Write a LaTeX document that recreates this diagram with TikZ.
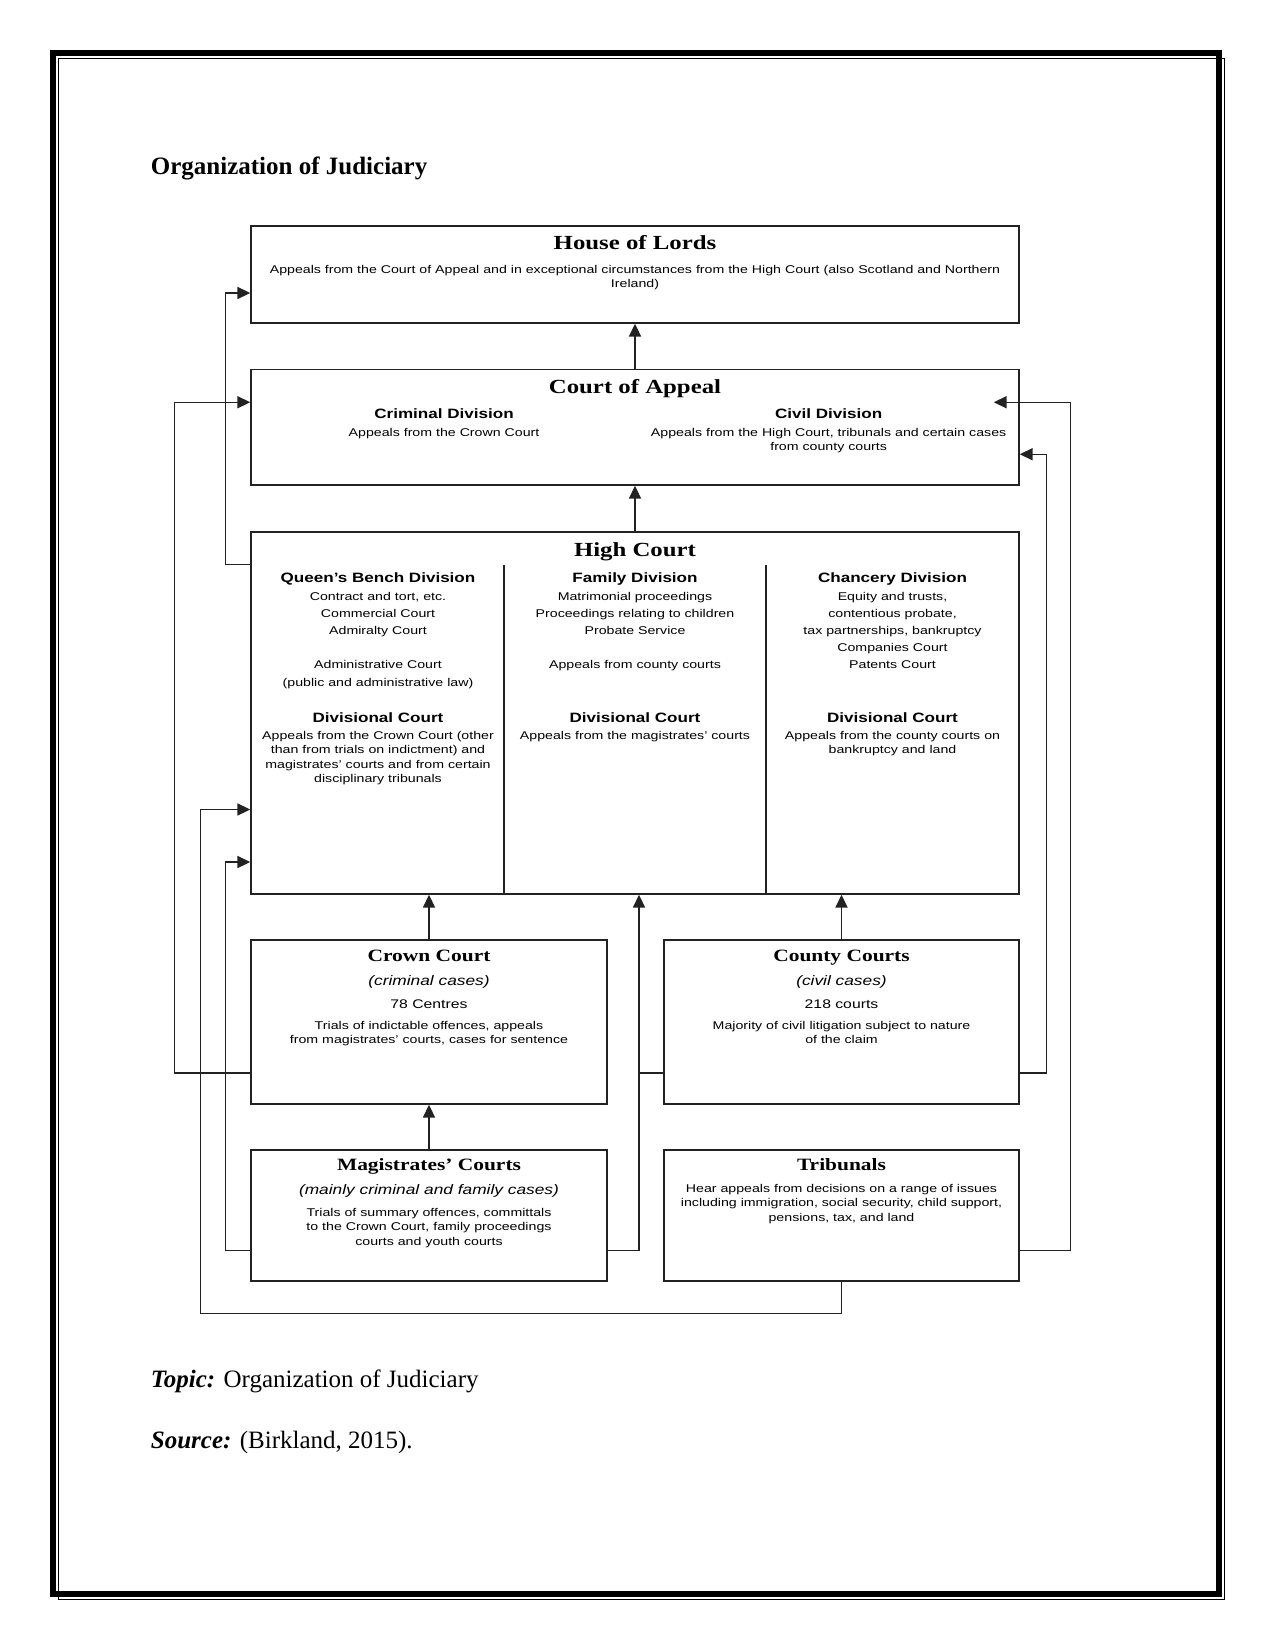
\documentclass[tikz,border=0pt]{standalone}
\usepackage{fontspec}
\setmainfont{Liberation Serif}
\newfontfamily\diagsans[FakeStretch=1.26]{Liberation Sans}
\newfontfamily\diagserif[FakeStretch=1.24]{Liberation Serif}
\usepackage{tikz}
\usetikzlibrary{positioning,arrows.meta,fit,calc}
\definecolor{courtline}{HTML}{222222}
\newcommand{\bighead}{\diagserif\bfseries\fontsize{9.6}{11}\selectfont}
\newcommand{\smallhead}{\diagserif\bfseries\fontsize{8.3}{10}\selectfont}
\newcommand{\divhead}{\diagsans\bfseries\fontsize{6.5}{8}\selectfont}
\newcommand{\bodytxt}{\diagsans\fontsize{5.4}{6.85}\selectfont}
\newcommand{\listtxt}{\diagsans\fontsize{5.4}{8.26}\selectfont}
\newcommand{\casetxt}{\diagsans\itshape\fontsize{6.6}{8}\selectfont}
\newcommand{\counttxt}{\diagsans\fontsize{6}{8}\selectfont}

\begin{document}
\begin{tikzpicture}[x=0.48pt,y=-0.48pt,
  box/.style={draw=courtline,line width=0.7pt,inner sep=0pt},
  conn/.style={draw=courtline,line width=0.7pt},
  arr/.style={conn,-{Triangle[length=6.2pt,width=5.8pt]}},
  lbl/.style={inner sep=0pt,anchor=base},
  blk/.style={inner sep=0pt,anchor=north,align=center},
  page/.style={inner sep=0pt,anchor=base west,font=\fontsize{12}{14}\selectfont},
]
\useasboundingbox (0,0) rectangle (1275,1651);

% page frame
\draw[line width=2.88pt] (53,53) rectangle (1219,1594);
\draw[line width=0.72pt] (58.7,58.7) rectangle (1224.3,1599.3);

\node[page,font=\bfseries\fontsize{12}{14}\selectfont] (title) at (150.5,175) {Organization of Judiciary};

% courts
\node[box,fit={(251,226) (1019,323)}] (hol) {};
\node[box,fit={(251,369.5) (1019,485)}] (coa) {};
\node[box,fit={(251,532) (1019,894)}] (hc) {};
\node[box,fit={(251,940) (607,1104)}] (crown) {};
\node[box,fit={(664,940) (1019,1104)}] (county) {};
\node[box,fit={(251,1150) (607,1281)}] (mag) {};
\node[box,fit={(664,1150) (1019,1281)}] (trib) {};

\coordinate (qbtop) at (504,565);
\coordinate (fdtop) at (766,565);
\draw[box] (qbtop) -- (qbtop |- hc.south);
\draw[box] (fdtop) -- (fdtop |- hc.south);

% House of Lords
\node[lbl,font=\bighead] (holT) at (635,250) {House of Lords};
\node[blk,font=\bodytxt] (holX) at (635,265) {Appeals from the Court of Appeal and in exceptional circumstances from the High Court (also Scotland and Northern\\Ireland)};

% Court of Appeal
\node[lbl,font=\bighead] (coaT) at (635,393) {Court of Appeal};
\node[lbl,font=\divhead] (crimT) at (444,418) {Criminal Division};
\node[blk,font=\bodytxt] (crimX) at (444,427.5) {Appeals from the Crown Court};
\node[lbl,font=\divhead] (civT) at (828.6,418) {Civil Division};
\node[blk,font=\bodytxt] (civX) at (828.6,427.5) {Appeals from the High Court, tribunals and certain cases\\from county courts};

% High Court
\node[lbl,font=\bighead] (hcT) at (635,556) {High Court};
\node[lbl,font=\divhead] (qbT) at (378,582) {Queen’s Bench Division};
\node[blk,font=\listtxt] (qbX) at (378,591.5) {Contract and tort, etc.\\Commercial Court\\Admiralty Court\\[8.26pt]Administrative Court\\(public and administrative law)};
\node[lbl,font=\divhead] (qbD) at (378,722) {Divisional Court};
\node[blk,font=\bodytxt] (qbY) at (378,731) {Appeals from the Crown Court (other\\than from trials on indictment) and\\magistrates’ courts and from certain\\disciplinary tribunals};

\node[lbl,font=\divhead] (fdT) at (635,582) {Family Division};
\node[blk,font=\listtxt] (fdX) at (635,591.5) {Matrimonial proceedings\\Proceedings relating to children\\Probate Service\\[8.26pt]Appeals from county courts};
\node[lbl,font=\divhead] (fdD) at (635,722) {Divisional Court};
\node[blk,font=\bodytxt] (fdY) at (635,731) {Appeals from the magistrates’ courts};

\node[lbl,font=\divhead] (chT) at (892.5,582) {Chancery Division};
\node[blk,font=\listtxt] (chX) at (892.5,591.5) {Equity and trusts,\\contentious probate,\\tax partnerships, bankruptcy\\Companies Court\\Patents Court};
\node[lbl,font=\divhead] (chD) at (892.5,722) {Divisional Court};
\node[blk,font=\bodytxt] (chY) at (892.5,731) {Appeals from the county courts on\\bankruptcy and land};

% lower courts
\node[lbl,font=\smallhead] (crownT) at (429,961.5) {Crown Court};
\node[lbl,font=\casetxt] (crownC) at (429,985) {(criminal cases)};
\node[lbl,font=\counttxt] (crownN) at (429,1008.5) {78 Centres};
\node[blk,font=\bodytxt] (crownX) at (429,1020.5) {Trials of indictable offences, appeals\\from magistrates’ courts, cases for sentence};

\node[lbl,font=\smallhead] (countyT) at (841.5,961.5) {County Courts};
\node[lbl,font=\casetxt] (countyC) at (841.5,985) {(civil cases)};
\node[lbl,font=\counttxt] (countyN) at (841.5,1008.5) {218 courts};
\node[blk,font=\bodytxt] (countyX) at (841.5,1020.5) {Majority of civil litigation subject to nature\\of the claim};

\node[lbl,font=\smallhead] (magT) at (429,1170.7) {Magistrates’ Courts};
\node[lbl,font=\casetxt] (magC) at (429,1194.5) {(mainly criminal and family cases)};
\node[blk,font=\bodytxt] (magX) at (429,1208) {Trials of summary offences, committals\\to the Crown Court, family proceedings\\courts and youth courts};

\node[lbl,font=\smallhead] (tribT) at (841.5,1170.7) {Tribunals};
\node[blk,font=\bodytxt] (tribX) at (841.5,1184) {Hear appeals from decisions on a range of issues\\including immigration, social security, child support,\\pensions, tax, and land};

% appeal routes
\draw[arr] (coa.north) -- (hol.south);
\draw[arr] (hc.north) -- (coa.south);
\draw[arr] (crown.north) -- (crown.north |- hc.south);
\draw[arr] (county.north) -- (county.north |- hc.south);
\draw[arr] (mag.north) -- (crown.south);
\draw[arr] ($(hc.north west)+(0,33)$) -- ++(-25,0) |- ($(hol.west)+(0,18.5)$);
\draw[arr] ($(crown.west)+(0,51)$) -- ++(-76,0) |- ($(coa.west)+(0,-25)$);
\draw[arr] ($(county.east)+(0,51)$) -- ++(26.5,0) |- ($(coa.east)+(0,27)$);
\draw[arr] ($(trib.east)+(0,35)$) -- ++(50.5,0) |- ($(coa.east)+(-26,-25)$);
\draw[arr] ($(mag.east)+(0,35)$) -| ($(hc.south)+(4,0)$);
\draw[conn] ($(county.west)+(0,51)$) -- ++(-25,0);
\draw[arr] ($(mag.west)+(0,35)$) -- ++(-25,0) |- ($(hc.west)+(0,149)$);
\draw[arr] (trib.south) -- ++(0,31.5) -| ($(hc.west)+(-50,96.5)$) -- ($(hc.west)+(0,96.5)$);

\node[page] (topic) at (150.5,1387) {\textbf{\textit{Topic:}} Organization of Judiciary};
\node[page] (source) at (150.5,1448.5) {\textbf{\textit{Source:}} (Birkland, 2015).};
\end{tikzpicture}
\end{document}
